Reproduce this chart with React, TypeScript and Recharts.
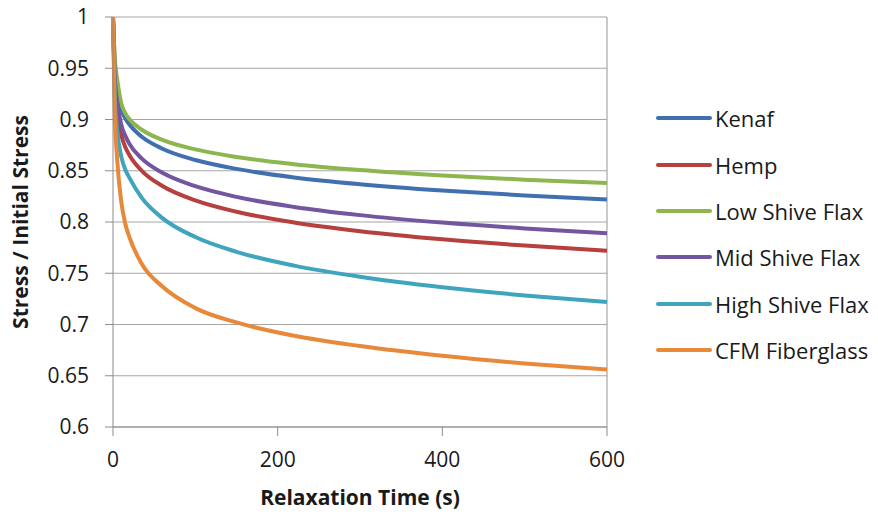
import React from 'react';
import { LineChart, Line, XAxis, YAxis, CartesianGrid, ReferenceLine, Legend } from 'recharts';

const times = [0, 2, 5, 10, 15, 20, 35, 60, 100, 150, 220, 300, 400, 500, 600];

const kenaf = [1, 0.955, 0.93, 0.91, 0.901, 0.8951, 0.8831, 0.8715, 0.8605, 0.8518, 0.8435, 0.8369, 0.8307, 0.8259, 0.822];
const hemp = [1, 0.938, 0.908, 0.885, 0.873, 0.8652, 0.8499, 0.8351, 0.8211, 0.81, 0.7995, 0.791, 0.7831, 0.777, 0.772];
const lowShive = [1, 0.962, 0.94, 0.916, 0.906, 0.9002, 0.89, 0.8801, 0.8708, 0.8634, 0.8564, 0.8507, 0.8454, 0.8413, 0.838];
const midShive = [1, 0.945, 0.918, 0.895, 0.884, 0.8761, 0.8618, 0.848, 0.8349, 0.8245, 0.8147, 0.8067, 0.7994, 0.7937, 0.789];
const highShive = [1, 0.925, 0.89, 0.864, 0.851, 0.843, 0.8235, 0.8038, 0.7853, 0.7709, 0.7574, 0.7465, 0.7363, 0.7284, 0.722];
const cfm = [1, 0.91, 0.862, 0.82, 0.798, 0.785, 0.759, 0.737, 0.716, 0.702, 0.689, 0.679, 0.6695, 0.662, 0.656];

const seriesNames = ['Kenaf', 'Hemp', 'Low Shive Flax', 'Mid Shive Flax', 'High Shive Flax', 'CFM Fiberglass'];
const seriesValues = [kenaf, hemp, lowShive, midShive, highShive, cfm];
const seriesColors = ['#4170B0', '#B5403D', '#8DB64E', '#7356A0', '#3FA4BE', '#E8893A'];

const xTicks = [0, 200, 400, 600];
const yTicks = [0.6, 0.65, 0.7, 0.75, 0.8, 0.85, 0.9, 0.95, 1];

const xTitle = 'Relaxation Time (s)';
const yTitle = 'Stress / Initial Stress';

const data = times.map((t, i) => {
  const row: Record<string, number> = { t };
  seriesNames.forEach((n, k) => {
    row[n] = seriesValues[k][i];
  });
  return row;
});

const FONT = '"Open Sans", sans-serif';

const LegendContent = () => (
  <div style={{ fontFamily: FONT }}>
    {seriesNames.map((n, k) => (
      <div key={n} style={{ height: 46.4, display: 'flex', alignItems: 'center' }}>
        <svg width={56} height={8} style={{ display: 'block' }}>
          <line x1={2} y1={4} x2={54} y2={4} stroke={seriesColors[k]} strokeWidth={4} strokeLinecap="round" />
        </svg>
        <span style={{ fontSize: 22, color: '#1a1a1a', marginLeft: 3, whiteSpace: 'nowrap' }}>{n}</span>
      </div>
    ))}
  </div>
);

export default function App() {
  return (
    <div style={{ position: 'absolute', left: 0, top: 0, width: 878, height: 517, background: '#fff' }}>
      <LineChart width={878} height={517} data={data} margin={{ top: 17, right: 271, bottom: 10, left: 0 }}>
        <CartesianGrid vertical={false} stroke="#A6A6A6" strokeWidth={1.2} />
        <ReferenceLine x={600} stroke="#A6A6A6" strokeWidth={1.2} />
        <XAxis
          dataKey="t"
          type="number"
          domain={[0, 600]}
          ticks={xTicks}
          height={80}
          tickSize={9}
          tickMargin={16}
          stroke="#8C8C8C"
          tick={{ fill: '#1a1a1a', fontSize: 21, fontFamily: FONT }}
          label={{ value: xTitle, position: 'insideBottom', offset: 2, fill: '#1a1a1a', fontSize: 21, fontWeight: 'bold', fontFamily: FONT }}
        />
        <YAxis
          type="number"
          domain={[0.6, 1]}
          ticks={yTicks}
          width={113}
          tickSize={8}
          tickMargin={16}
          stroke="#8C8C8C"
          allowDataOverflow
          tickFormatter={(v: number) => String(Number(v.toFixed(2)))}
          tick={{ fill: '#1a1a1a', fontSize: 21, fontFamily: FONT }}
          label={{ value: yTitle, angle: -90, position: 'center', dx: -36, fill: '#1a1a1a', fontSize: 21, fontWeight: 'bold', fontFamily: FONT }}
        />
        {seriesNames.map((n, k) => (
          <Line
            key={n}
            type="monotone"
            dataKey={n}
            stroke={seriesColors[k]}
            strokeWidth={4}
            dot={false}
            activeDot={false}
            isAnimationActive={false}
          />
        ))}
        <Legend
          layout="vertical"
          align="center"
          verticalAlign="middle"
          content={<LegendContent />}
          wrapperStyle={{ left: 656, top: 95, width: 222, height: 280 }}
        />
      </LineChart>
    </div>
  );
}
